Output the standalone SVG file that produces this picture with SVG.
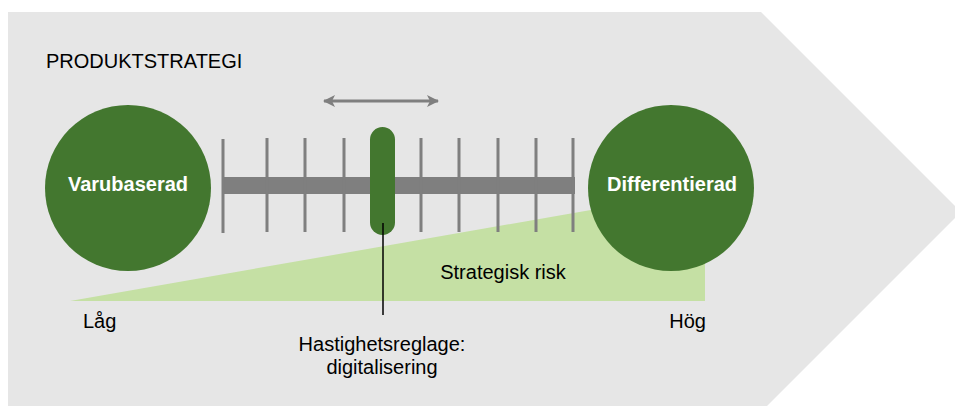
<svg xmlns="http://www.w3.org/2000/svg" width="955" height="406" viewBox="0 0 955 406">
<defs>
<style>
.t{font-family:"Liberation Sans",Arial,sans-serif;font-size:20px;fill:#000}
.b{font-family:"Liberation Sans",Arial,sans-serif;font-size:20px;font-weight:bold;fill:#fff}
.tick{stroke:#7f7f7f;stroke-width:3}
.node{fill:#43772f}
</style>
<marker id="ah" viewBox="0 0 12 12" refX="11" refY="6" markerWidth="12" markerHeight="12" markerUnits="userSpaceOnUse" orient="auto-start-reverse">
<path d="M0,0 L12,6 L0,12 L3,6 Z" fill="#7f7f7f"/>
</marker>
</defs>
<rect width="955" height="406" fill="#fff"/>
<g id="background">
<polygon points="8,12 761,12 961,212 761,412 8,412" fill="#e6e6e6"/>
<text class="t" x="46" y="68">PRODUKTSTRATEGI</text>
</g>
<g id="risk">
<polygon points="70,301 705,301 705,190" fill="#c5e0a4"/>
<text class="t" x="503" y="279" text-anchor="middle">Strategisk risk</text>
<text class="t" x="83" y="328">Låg</text>
<text class="t" x="706" y="328" text-anchor="end">Hög</text>
</g>
<g id="scale">
<rect x="223" y="177" width="352" height="17" fill="#7f7f7f"/>
<line class="tick" x1="223" y1="139" x2="223" y2="233"/>
<line class="tick" x1="267" y1="138" x2="267" y2="232"/>
<line class="tick" x1="305" y1="138" x2="305" y2="232"/>
<line class="tick" x1="344" y1="138" x2="344" y2="232"/>
<line class="tick" x1="421" y1="138" x2="421" y2="232"/>
<line class="tick" x1="459" y1="138" x2="459" y2="232"/>
<line class="tick" x1="498" y1="138" x2="498" y2="232"/>
<line class="tick" x1="536" y1="138" x2="536" y2="232"/>
<line class="tick" x1="573" y1="138" x2="573" y2="232"/>
</g>
<g id="varubaserad">
<circle class="node" cx="128" cy="188" r="83"/>
<text class="b" x="128" y="191" text-anchor="middle">Varubaserad</text>
</g>
<g id="differentierad">
<circle class="node" cx="671" cy="188" r="83"/>
<text class="b" x="672" y="191" text-anchor="middle">Differentierad</text>
</g>
<g id="slider">
<rect class="node" x="370" y="127" width="25" height="108" rx="12.5"/>
</g>
<g id="connectors">
<line x1="324" y1="101" x2="438" y2="101" stroke="#7f7f7f" stroke-width="3" marker-start="url(#ah)" marker-end="url(#ah)"/>
<line x1="383" y1="223" x2="383" y2="315" stroke="#000" stroke-width="1.5"/>
</g>
<g id="label">
<text class="t" x="382" y="351" text-anchor="middle">Hastighetsreglage:</text>
<text class="t" x="382" y="374" text-anchor="middle">digitalisering</text>
</g>
</svg>
